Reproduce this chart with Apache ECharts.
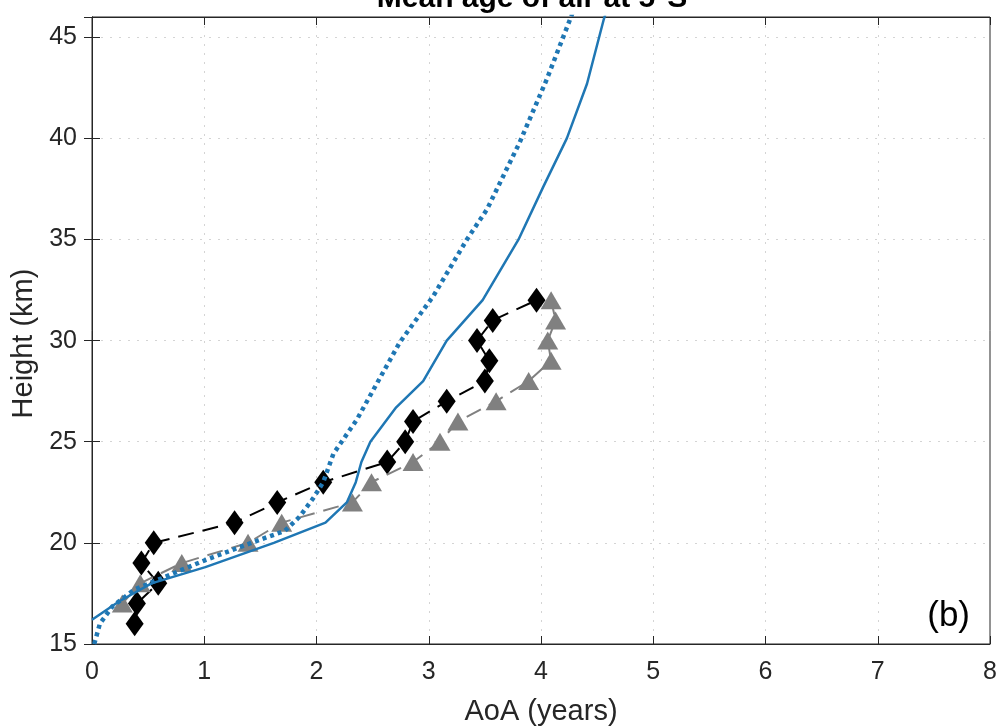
<!DOCTYPE html>
<html>
<head>
<meta charset="utf-8">
<script src="https://cdn.jsdelivr.net/npm/echarts@6/dist/echarts.min.js"></script>
<style>html,body{margin:0;padding:0;background:#fff;}#c{width:1000px;height:726px;}</style>
</head>
<body>
<div id="c"></div>
<script>
// Observations (black diamonds): [AoA, height]
const obsBlack = [[0.38,16],[0.40,17],[0.59,18],[0.44,19],[0.55,20],[1.27,21],[1.65,22],[2.06,23],[2.63,24],[2.79,25],[2.86,26],[3.16,27],[3.50,28],[3.54,29],[3.43,30],[3.57,31],[3.96,32]];
// Observations (gray triangles)
const obsGray = [[0.27,17],[0.43,18],[0.80,19],[1.39,20],[1.69,21],[2.32,22],[2.49,23],[2.86,24],[3.10,25],[3.26,26],[3.60,27],[3.89,28],[4.09,29],[4.06,30],[4.13,31],[4.09,32]];
// Model (solid blue)
const modelSolid = [[0.0,16.2],[0.24,17.1],[0.53,18.0],[1.01,18.8],[1.62,20.0],[2.08,21.0],[2.27,22.0],[2.35,23.0],[2.40,24.0],[2.48,25.0],[2.71,26.7],[2.95,28.0],[3.16,30.0],[3.48,32.0],[3.80,35.0],[4.02,37.6],[4.23,40.0],[4.41,42.7],[4.56,45.9],[4.60,46.6]];
// Model (dotted blue)
const modelDotted = [[0.02,15.0],[0.07,16.0],[0.18,16.85],[0.38,17.7],[0.62,18.25],[1.01,19.15],[1.42,20.0],[1.72,20.6],[1.85,21.3],[1.97,22.2],[2.06,23.0],[2.15,24.4],[2.36,26.1],[2.74,29.9],[3.04,32.2],[3.34,35.0],[3.52,36.5],[3.81,39.8],[4.05,42.9],[4.26,45.9],[4.30,46.5]];
const xTicks = [0,1,2,3,4,5,6,7,8];
const yTicks = [15,20,25,30,35,40,45];

const FONT = 'Liberation Sans, Arial, Helvetica, sans-serif';
const axisCol = '#262626';
const blue = '#1f77b4';

const chart = echarts.init(document.getElementById('c'));
chart.setOption({
  animation: false,
  backgroundColor: '#fff',
  title: [
    {text: 'Mean age of air at 5°S', left: 527, textAlign: 'center', top: -21,
     textStyle: {fontFamily: FONT, fontSize: 30, fontWeight: 'bold', color: '#000'}},
    {text: '(b)', right: 25, top: 594,
     textStyle: {fontFamily: FONT, fontSize: 35, fontWeight: 'normal', color: '#000'}}
  ],
  grid: {left: 92, right: 10, top: 17, bottom: 82, show: true, borderColor: axisCol, borderWidth: 1,
         containLabel: false, outerBoundsMode: 'none'},
  xAxis: [{
    type: 'value', min: 0, max: 8, interval: 1,
    name: 'AoA (years)', nameLocation: 'middle', nameGap: 53,
    nameTextStyle: {fontFamily: FONT, fontSize: 29, color: axisCol},
    axisLine: {show: true, onZero: false, lineStyle: {color: axisCol, width: 1}},
    axisTick: {show: true, inside: true, length: 8, lineStyle: {color: axisCol}},
    axisLabel: {fontFamily: FONT, fontSize: 25, color: axisCol, margin: 16,
      formatter: v => xTicks.includes(v) ? String(v) : ''},
    splitLine: {show: true, showMinLine: false, showMaxLine: false,
      lineStyle: {color: '#d4d4d4', type: [2, 7], width: 1}}
  },{
    type: 'value', min: 0, max: 8, interval: 1, position: 'top',
    axisLine: {show: true, lineStyle: {color: axisCol, width: 1}},
    axisTick: {show: true, inside: true, length: 8, lineStyle: {color: axisCol}},
    axisLabel: {show: false}, splitLine: {show: false}
  }],
  yAxis: [{
    type: 'value', min: 15, max: 46, interval: 5,
    name: 'Height (km)', nameLocation: 'middle', nameGap: 54,
    nameTextStyle: {fontFamily: FONT, fontSize: 29, color: axisCol, padding: [0, 26, 0, 0]},
    axisLine: {show: true, onZero: false, lineStyle: {color: axisCol, width: 1}},
    axisTick: {show: true, inside: true, length: 8, lineStyle: {color: axisCol}},
    axisLabel: {fontFamily: FONT, fontSize: 25, color: axisCol, margin: 15,
      formatter: v => yTicks.includes(v) ? String(v) : ''},
    splitLine: {show: true, showMinLine: false, showMaxLine: false,
      lineStyle: {color: '#d4d4d4', type: [2, 7], width: 1}}
  },{
    type: 'value', min: 15, max: 46, interval: 5, position: 'right',
    axisLine: {show: true, lineStyle: {color: axisCol, width: 1}},
    axisTick: {show: true, inside: true, length: 8, lineStyle: {color: axisCol}},
    axisLabel: {show: false}, splitLine: {show: false}
  }],
  series: [
    {type: 'line', data: obsBlack, symbol: 'diamond', symbolSize: [18, 25],
     itemStyle: {color: '#000'}, lineStyle: {color: '#000', width: 2, type: [16, 9]}, z: 2},
    {type: 'line', data: obsGray, symbol: 'triangle', symbolSize: [21, 18],
     itemStyle: {color: '#808080'}, lineStyle: {color: '#808080', width: 2, type: [16, 9]}, z: 3},
    {type: 'line', data: modelSolid, symbol: 'none', clip: true,
     lineStyle: {color: blue, width: 2.5}, z: 4},
    {type: 'line', data: modelDotted, symbol: 'none', clip: true,
     lineStyle: {color: blue, width: 4.5, type: [4, 4]}, z: 5}
  ]
});
</script>
</body>
</html>
